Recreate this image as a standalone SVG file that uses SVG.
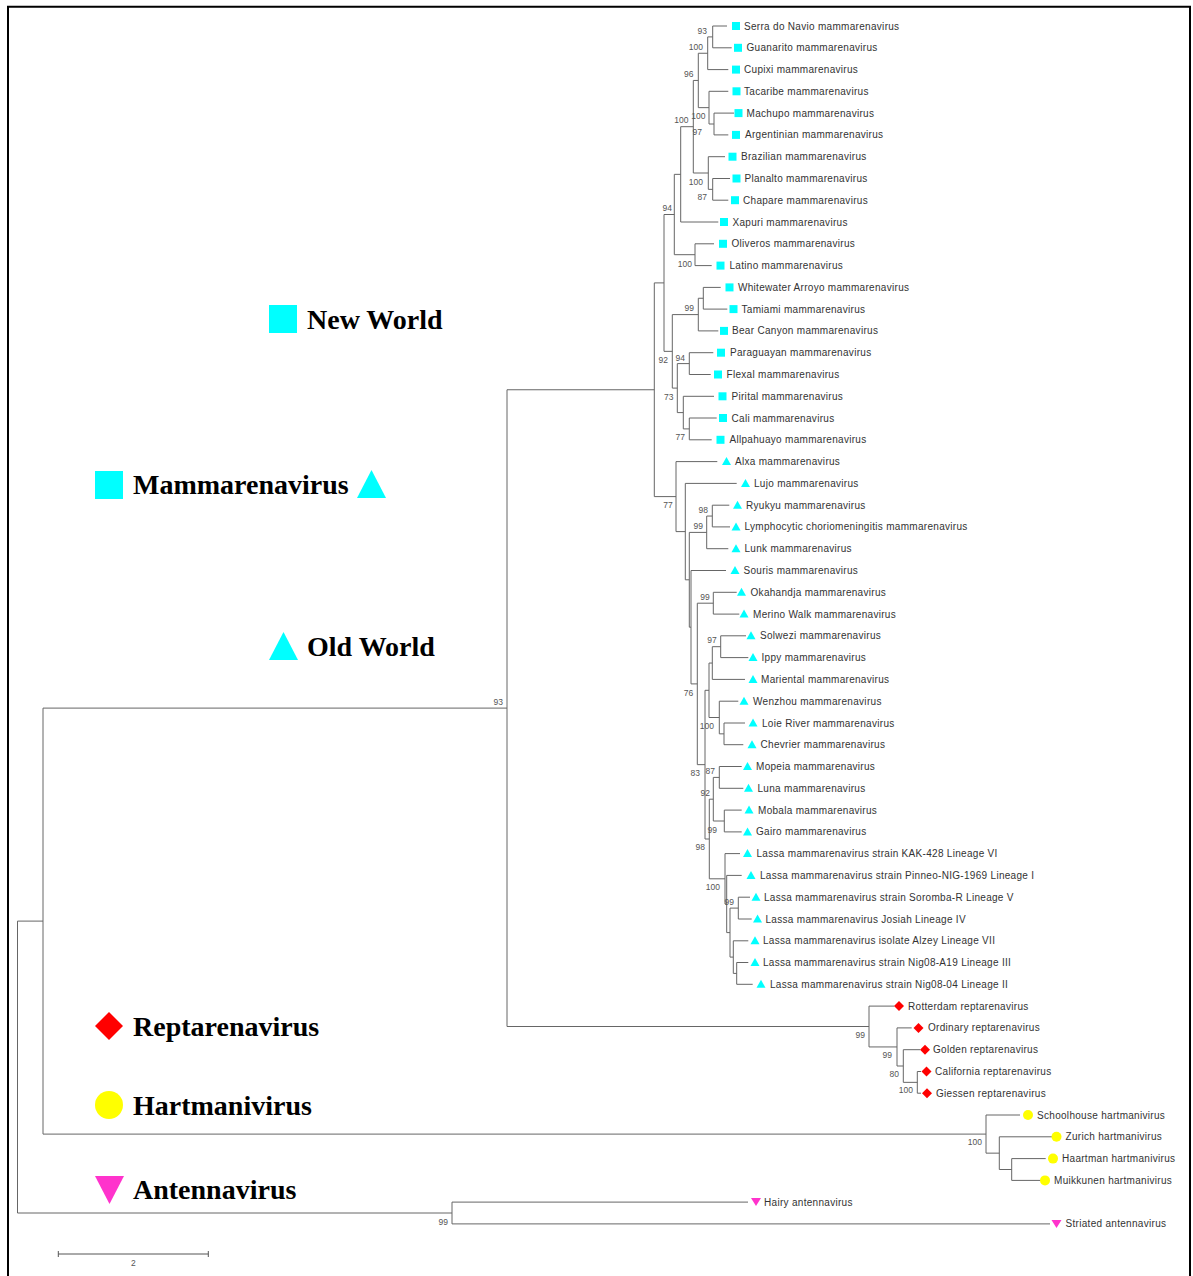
<svg xmlns="http://www.w3.org/2000/svg" width="1193" height="1276" viewBox="0 0 1193 1276">
<style>
.br{fill:none;stroke:#666;stroke-width:1}
.t{font-family:"Liberation Sans",Arial,sans-serif;font-size:10px;fill:#333;letter-spacing:0.3px}
.bs{font-family:"Liberation Sans",Arial,sans-serif;font-size:8.5px;fill:#555;text-anchor:end}
.lg{font-family:"Liberation Serif","Times New Roman",serif;font-size:28px;font-weight:bold;fill:#000}
.cy{fill:#00FFFF}.rd{fill:#FF0000}.yl{fill:#FFFF00}.mg{fill:#FF33CC}
</style>
<defs>
<rect id="sq" x="-4" y="-4" width="8" height="8" fill="#00FFFF"/>
<path id="tri" d="M0,-4.5 L4.5,3.5 L-4.5,3.5Z" fill="#00FFFF"/>
<path id="dia" d="M0,-5 L5,0 L0,5 L-5,0Z" fill="#FF0000"/>
<circle id="cir" r="5" fill="#FFFF00"/>
<path id="dtri" d="M-5,-4 L5,-4 L0,4Z" fill="#FF33CC"/>
</defs>
<rect width="1193" height="1276" fill="#fff"/>
<path d="M8,1276 V6.7 H1190 V1276" fill="none" stroke="#000" stroke-width="2"/>

<g id="legend">
<rect x="269" y="305" width="28" height="28" class="cy"/>
<text x="307" y="329" class="lg">New World</text>
<rect x="95" y="471" width="28" height="28" class="cy"/>
<text x="133" y="494" class="lg">Mammarenavirus</text>
<path d="M371.5,470 L386,498 L357,498Z" class="cy"/>
<path d="M283.5,632 L298,660 L269,660Z" class="cy"/>
<text x="307" y="656" class="lg">Old World</text>
<path d="M109,1012 L123,1026 L109,1040 L95,1026Z" class="rd"/>
<text x="133" y="1036" class="lg">Reptarenavirus</text>
<circle cx="109" cy="1105" r="14" class="yl"/>
<text x="133" y="1115" class="lg">Hartmanivirus</text>
<path d="M95,1176 L124,1176 L109.5,1204Z" class="mg"/>
<text x="133" y="1199" class="lg">Antennavirus</text>
</g>

<g id="connectors" class="br">
<path d="M43,921.1 H17.5 V1213 H452"/>
<path d="M507,708.1 H43 V1134.1 H986"/>
<path d="M654.3,389.75 H507 V1026.5 H869"/>
<path d="M748,1202.1 H452 V1223.9 H1050"/>
<path d="M1020,1115 H986 V1153.15 H999.3"/>
<path d="M1052,1136.8 H999.3 V1169.5 H1011.7"/>
<path d="M1045.7,1158.6 H1011.7 V1180.4 H1041"/>
<path d="M894.3,1006.1 H869 V1046.95 H897"/>
<path d="M911.7,1027.9 H897 V1066 H903.3"/>
<path d="M920,1049.7 H903.3 V1082.35 H917.3"/>
<path d="M921,1071.5 H917.3 V1093.2 H921"/>
<path d="M664,282.9 H654.3 V496.6 H676"/>
<path d="M674.3,214.5 H664 V351.35 H672.3"/>
<path d="M680.7,174.35 H674.3 V254.7 H695"/>
<path d="M693.3,126.7 H680.7 V222 H718.3"/>
<path d="M698.3,80.45 H693.3 V173 H708.3"/>
<path d="M707.7,53.25 H698.3 V107.65 H709"/>
<path d="M712.7,36.9 H707.7 V69.6 H728.3"/>
<path d="M727,26 H712.7 V47.8 H731.7"/>
<path d="M728.3,91.3 H709 V124 H714"/>
<path d="M734,113.1 H714 V134.9 H728.3"/>
<path d="M725,156.7 H708.3 V189.35 H712.7"/>
<path d="M730,178.5 H712.7 V200.2 H728.3"/>
<path d="M714,243.8 H695 V265.6 H711.7"/>
<path d="M698.3,314.6 H672.3 V388.1 H677.3"/>
<path d="M703.3,298.25 H698.3 V330.9 H718.3"/>
<path d="M720.7,287.4 H703.3 V309.1 H727.3"/>
<path d="M689.3,363.6 H677.3 V412.6 H683.3"/>
<path d="M713.3,352.7 H689.3 V374.5 H710.7"/>
<path d="M714,396.3 H683.3 V428.9 H689.3"/>
<path d="M716.7,418 H689.3 V439.8 H711.7"/>
<path d="M717.3,461.6 H676 V531.6 H685.3"/>
<path d="M736.7,483.4 H685.3 V579.8 H689.3"/>
<path d="M706.7,532.4 H689.3 V627.2 H691"/>
<path d="M712.3,516.05 H706.7 V548.7 H728.3"/>
<path d="M729.3,505.2 H712.3 V526.9 H730"/>
<path d="M726,570.5 H691 V683.9 H697.3"/>
<path d="M713.3,603.2 H697.3 V764.65 H705"/>
<path d="M736.7,592.3 H713.3 V614.1 H739.3"/>
<path d="M709,690.3 H705 V839 H709.3"/>
<path d="M712.3,663.05 H709 V717.5 H719.3"/>
<path d="M720.7,646.7 H712.3 V679.4 H745"/>
<path d="M746,635.8 H720.7 V657.6 H748.3"/>
<path d="M738.3,701.2 H719.3 V733.85 H724"/>
<path d="M745,723 H724 V744.7 H743.3"/>
<path d="M713.3,799.2 H709.3 V878.8 H725"/>
<path d="M719.3,777.4 H713.3 V821 H724.3"/>
<path d="M741.7,766.5 H719.3 V788.3 H743.3"/>
<path d="M741.7,810.1 H724.3 V831.9 H741.7"/>
<path d="M740,853.6 H725 V904 H726.7"/>
<path d="M741.7,875.4 H726.7 V932.6 H730"/>
<path d="M738.3,908.1 H730 V957.1 H733.3"/>
<path d="M750,897.2 H738.3 V919 H751.7"/>
<path d="M748.3,940.8 H733.3 V973.4 H736.7"/>
<path d="M748.3,962.5 H736.7 V984.3 H752.7"/>
</g>

<g id="bootstrap">
<text class="bs" x="707" y="34">93</text>
<text class="bs" x="703" y="50">100</text>
<text class="bs" x="693.5" y="77">96</text>
<text class="bs" x="688.5" y="122.5">100</text>
<text class="bs" x="705.5" y="118.5">100</text>
<text class="bs" x="702" y="135">97</text>
<text class="bs" x="703" y="184.5">100</text>
<text class="bs" x="707" y="200">87</text>
<text class="bs" x="672" y="211">94</text>
<text class="bs" x="692" y="267">100</text>
<text class="bs" x="694" y="311">99</text>
<text class="bs" x="668" y="363">92</text>
<text class="bs" x="685" y="360.5">94</text>
<text class="bs" x="673.5" y="399.5">73</text>
<text class="bs" x="685" y="439.5">77</text>
<text class="bs" x="672.7" y="508">77</text>
<text class="bs" x="708" y="513">98</text>
<text class="bs" x="703" y="529">99</text>
<text class="bs" x="709.7" y="600">99</text>
<text class="bs" x="716.7" y="643">97</text>
<text class="bs" x="693.3" y="695.5">76</text>
<text class="bs" x="714" y="729">100</text>
<text class="bs" x="700" y="776">83</text>
<text class="bs" x="715" y="773.5">87</text>
<text class="bs" x="710" y="795.5">92</text>
<text class="bs" x="717" y="833">99</text>
<text class="bs" x="705" y="849.5">98</text>
<text class="bs" x="720" y="889.5">100</text>
<text class="bs" x="734" y="904.5">99</text>
<text class="bs" x="503" y="705">93</text>
<text class="bs" x="865" y="1038">99</text>
<text class="bs" x="892" y="1058">99</text>
<text class="bs" x="899" y="1076.5">80</text>
<text class="bs" x="913" y="1093">100</text>
<text class="bs" x="982" y="1145">100</text>
<text class="bs" x="448" y="1225">99</text>
</g>

<g id="leaf-0"><use href="#sq" x="736" y="26"/><text class="t" x="744" y="29.5">Serra do Navio mammarenavirus</text></g>
<g id="leaf-1"><use href="#sq" x="738" y="47.8"/><text class="t" x="746.5" y="51.3">Guanarito mammarenavirus</text></g>
<g id="leaf-2"><use href="#sq" x="736" y="69.6"/><text class="t" x="744" y="73.1">Cupixi mammarenavirus</text></g>
<g id="leaf-3"><use href="#sq" x="736.5" y="91.3"/><text class="t" x="744" y="94.8">Tacaribe mammarenavirus</text></g>
<g id="leaf-4"><use href="#sq" x="738.5" y="113.1"/><text class="t" x="746.5" y="116.6">Machupo mammarenavirus</text></g>
<g id="leaf-5"><use href="#sq" x="736" y="134.9"/><text class="t" x="745" y="138.4">Argentinian mammarenavirus</text></g>
<g id="leaf-6"><use href="#sq" x="732.5" y="156.7"/><text class="t" x="741" y="160.2">Brazilian mammarenavirus</text></g>
<g id="leaf-7"><use href="#sq" x="736.5" y="178.5"/><text class="t" x="744.5" y="182">Planalto mammarenavirus</text></g>
<g id="leaf-8"><use href="#sq" x="735" y="200.2"/><text class="t" x="743" y="203.7">Chapare mammarenavirus</text></g>
<g id="leaf-9"><use href="#sq" x="724" y="222"/><text class="t" x="732.5" y="225.5">Xapuri mammarenavirus</text></g>
<g id="leaf-10"><use href="#sq" x="723" y="243.8"/><text class="t" x="731.5" y="247.3">Oliveros mammarenavirus</text></g>
<g id="leaf-11"><use href="#sq" x="720.5" y="265.6"/><text class="t" x="729.5" y="269.1">Latino mammarenavirus</text></g>
<g id="leaf-12"><use href="#sq" x="729.5" y="287.4"/><text class="t" x="738" y="290.9">Whitewater Arroyo mammarenavirus</text></g>
<g id="leaf-13"><use href="#sq" x="733.5" y="309.1"/><text class="t" x="741.5" y="312.6">Tamiami mammarenavirus</text></g>
<g id="leaf-14"><use href="#sq" x="724" y="330.9"/><text class="t" x="732" y="334.4">Bear Canyon mammarenavirus</text></g>
<g id="leaf-15"><use href="#sq" x="721" y="352.7"/><text class="t" x="730" y="356.2">Paraguayan mammarenavirus</text></g>
<g id="leaf-16"><use href="#sq" x="718" y="374.5"/><text class="t" x="726.5" y="378">Flexal mammarenavirus</text></g>
<g id="leaf-17"><use href="#sq" x="722.5" y="396.3"/><text class="t" x="731.5" y="399.8">Pirital mammarenavirus</text></g>
<g id="leaf-18"><use href="#sq" x="723" y="418"/><text class="t" x="731.5" y="421.5">Cali mammarenavirus</text></g>
<g id="leaf-19"><use href="#sq" x="720.5" y="439.8"/><text class="t" x="729.5" y="443.3">Allpahuayo mammarenavirus</text></g>
<g id="leaf-20"><use href="#tri" x="726.5" y="461.6"/><text class="t" x="735" y="465.1">Alxa mammarenavirus</text></g>
<g id="leaf-21"><use href="#tri" x="745.5" y="483.4"/><text class="t" x="754" y="486.9">Lujo mammarenavirus</text></g>
<g id="leaf-22"><use href="#tri" x="737.5" y="505.2"/><text class="t" x="746" y="508.7">Ryukyu mammarenavirus</text></g>
<g id="leaf-23"><use href="#tri" x="736" y="526.9"/><text class="t" x="744.5" y="530.4">Lymphocytic choriomeningitis mammarenavirus</text></g>
<g id="leaf-24"><use href="#tri" x="736" y="548.7"/><text class="t" x="744.5" y="552.2">Lunk mammarenavirus</text></g>
<g id="leaf-25"><use href="#tri" x="735" y="570.5"/><text class="t" x="743.5" y="574">Souris mammarenavirus</text></g>
<g id="leaf-26"><use href="#tri" x="741.5" y="592.3"/><text class="t" x="750.5" y="595.8">Okahandja mammarenavirus</text></g>
<g id="leaf-27"><use href="#tri" x="744" y="614.1"/><text class="t" x="753" y="617.6">Merino Walk mammarenavirus</text></g>
<g id="leaf-28"><use href="#tri" x="751" y="635.8"/><text class="t" x="760" y="639.3">Solwezi mammarenavirus</text></g>
<g id="leaf-29"><use href="#tri" x="753" y="657.6"/><text class="t" x="761.5" y="661.1">Ippy mammarenavirus</text></g>
<g id="leaf-30"><use href="#tri" x="753" y="679.4"/><text class="t" x="761" y="682.9">Mariental mammarenavirus</text></g>
<g id="leaf-31"><use href="#tri" x="744" y="701.2"/><text class="t" x="753" y="704.7">Wenzhou mammarenavirus</text></g>
<g id="leaf-32"><use href="#tri" x="753" y="723"/><text class="t" x="762" y="726.5">Loie River mammarenavirus</text></g>
<g id="leaf-33"><use href="#tri" x="752" y="744.7"/><text class="t" x="760.5" y="748.2">Chevrier mammarenavirus</text></g>
<g id="leaf-34"><use href="#tri" x="747.5" y="766.5"/><text class="t" x="756" y="770">Mopeia mammarenavirus</text></g>
<g id="leaf-35"><use href="#tri" x="748.5" y="788.3"/><text class="t" x="757.5" y="791.8">Luna mammarenavirus</text></g>
<g id="leaf-36"><use href="#tri" x="749" y="810.1"/><text class="t" x="758" y="813.6">Mobala mammarenavirus</text></g>
<g id="leaf-37"><use href="#tri" x="747.5" y="831.9"/><text class="t" x="756" y="835.4">Gairo mammarenavirus</text></g>
<g id="leaf-38"><use href="#tri" x="747.5" y="853.6"/><text class="t" x="756.5" y="857.1">Lassa mammarenavirus strain KAK-428 Lineage VI</text></g>
<g id="leaf-39"><use href="#tri" x="751" y="875.4"/><text class="t" x="760" y="878.9">Lassa mammarenavirus strain Pinneo-NIG-1969 Lineage I</text></g>
<g id="leaf-40"><use href="#tri" x="756" y="897.2"/><text class="t" x="764" y="900.7">Lassa mammarenavirus strain Soromba-R Lineage V</text></g>
<g id="leaf-41"><use href="#tri" x="757.5" y="919"/><text class="t" x="765.5" y="922.5">Lassa mammarenavirus Josiah Lineage IV</text></g>
<g id="leaf-42"><use href="#tri" x="755" y="940.8"/><text class="t" x="763" y="944.3">Lassa mammarenavirus isolate Alzey Lineage VII</text></g>
<g id="leaf-43"><use href="#tri" x="755" y="962.5"/><text class="t" x="763" y="966">Lassa mammarenavirus strain Nig08-A19 Lineage III</text></g>
<g id="leaf-44"><use href="#tri" x="761" y="984.3"/><text class="t" x="770" y="987.8">Lassa mammarenavirus strain Nig08-04 Lineage II</text></g>
<g id="leaf-45"><use href="#dia" x="899" y="1006.1"/><text class="t" x="908" y="1009.6">Rotterdam reptarenavirus</text></g>
<g id="leaf-46"><use href="#dia" x="918.5" y="1027.9"/><text class="t" x="928" y="1031.4">Ordinary reptarenavirus</text></g>
<g id="leaf-47"><use href="#dia" x="925" y="1049.7"/><text class="t" x="933" y="1053.2">Golden reptarenavirus</text></g>
<g id="leaf-48"><use href="#dia" x="926.5" y="1071.5"/><text class="t" x="935" y="1075">California reptarenavirus</text></g>
<g id="leaf-49"><use href="#dia" x="927" y="1093.2"/><text class="t" x="936" y="1096.7">Giessen reptarenavirus</text></g>
<g id="leaf-50"><use href="#cir" x="1028" y="1115"/><text class="t" x="1037" y="1118.5">Schoolhouse hartmanivirus</text></g>
<g id="leaf-51"><use href="#cir" x="1056.5" y="1136.8"/><text class="t" x="1065.5" y="1140.3">Zurich hartmanivirus</text></g>
<g id="leaf-52"><use href="#cir" x="1053" y="1158.6"/><text class="t" x="1062" y="1162.1">Haartman hartmanivirus</text></g>
<g id="leaf-53"><use href="#cir" x="1045" y="1180.4"/><text class="t" x="1054" y="1183.9">Muikkunen hartmanivirus</text></g>
<g id="leaf-54"><use href="#dtri" x="756" y="1202.1"/><text class="t" x="764" y="1205.6">Hairy antennavirus</text></g>
<g id="leaf-55"><use href="#dtri" x="1056.5" y="1223.9"/><text class="t" x="1065.5" y="1227.4">Striated antennavirus</text></g>

<g id="scale">
<path d="M58.3,1254 H208.3 M58.3,1251 V1257 M208.3,1251 V1257" fill="none" stroke="#555" stroke-width="1"/>
<text x="133.3" y="1266" class="bs" style="text-anchor:middle">2</text>
</g>
</svg>
